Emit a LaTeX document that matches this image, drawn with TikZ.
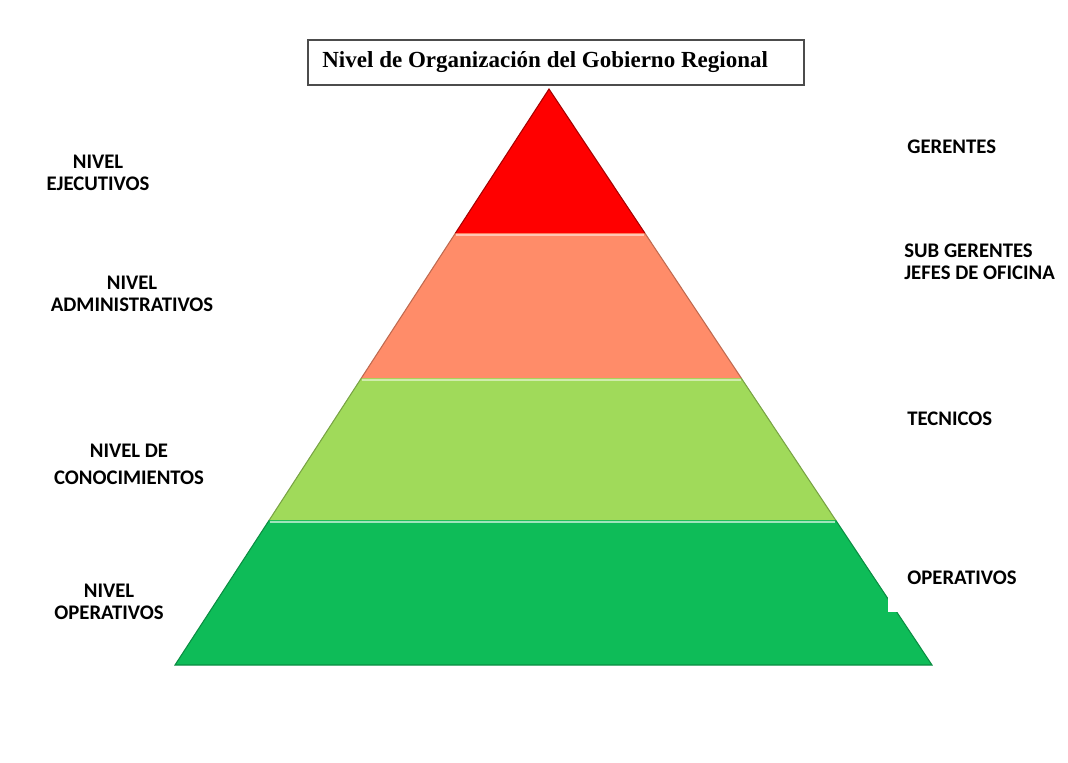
\documentclass[tikz,border=0pt]{standalone}
\usepackage{fontspec}
\setmainfont{Liberation Serif}
\newfontfamily\calibri{Carlito}
\definecolor{topred}{HTML}{FF0000}
\definecolor{salmon}{HTML}{FF8C69}
\definecolor{lightgreen}{HTML}{A0DA5A}
\definecolor{darkgreen}{HTML}{0EBC58}

\begin{document}
\begin{tikzpicture}[x=0.02cm,y=0.02cm]
\tikzstyle{every node}+=[inner sep=0pt]
\tikzstyle{lvl}=[font=\calibri\bfseries\fontsize{11.8}{12.5}\selectfont, align=center]
\tikzstyle{rol}=[font=\calibri\bfseries\fontsize{11.8}{12.5}\selectfont, align=left, anchor=west]
\useasboundingbox (0,0) rectangle (1068,-762);
% title box
\node [draw=black!70, line width=0.8pt, minimum width=9.92cm, minimum height=0.9cm] (titlebox) at (556,-62.5) {};
\node [anchor=west, font=\bfseries\fontsize{13.1}{15}\selectfont] (title) at (322,-62) {Nivel de Organización del Gobierno Regional};
% pyramid bands
\fill [darkgreen] (269.3,-520) -- (835.6,-520) -- (932,-665) -- (175,-665) -- cycle;
\draw [darkgreen!75!black, line width=0.6pt] (269.3,-520) -- (175,-665) -- (932,-665) -- (835.6,-520);
\draw [darkgreen!40!white, line width=1.5pt] (270,-522) -- (835,-522);
\fill [lightgreen] (361.4,-378) -- (741.2,-378) -- (835.6,-520) -- (269.3,-520) -- cycle;
\draw [lightgreen!75!black, line width=0.6pt] (361.4,-378) -- (269.3,-520);
\draw [lightgreen!75!black, line width=0.6pt] (741.2,-378) -- (835.6,-520);
\draw [lightgreen!50!white, line width=1.5pt] (362,-380) -- (740.5,-380);
\fill [salmon] (455.5,-233) -- (644.8,-233) -- (741.2,-378) -- (361.4,-378) -- cycle;
\draw [salmon!75!black, line width=0.6pt] (455.5,-233) -- (361.4,-378);
\draw [salmon!75!black, line width=0.6pt] (644.8,-233) -- (741.2,-378);
\draw [salmon!50!white, line width=1.5pt] (456,-235) -- (644,-235);
\fill [topred] (549,-89) -- (644.8,-233) -- (455.5,-233) -- cycle;
\draw [topred!65!black, line width=0.6pt] (455.5,-233) -- (549,-89) -- (644.8,-233);
\fill [white] (888,-597) rectangle (900,-612);
% level names
\node [lvl] (ejec) at (98,-173) {NIVEL\\EJECUTIVOS};
\node [lvl] (admin) at (132,-294) {NIVEL\\ADMINISTRATIVOS};
\node [lvl, font=\calibri\bfseries\fontsize{11.8}{15.5}\selectfont] (conoc) at (129,-464) {NIVEL DE\\CONOCIMIENTOS};
\node [lvl] (oper) at (109,-602) {NIVEL\\OPERATIVOS};
% roles
\node [rol] (ger) at (907,-147) {GERENTES};
\node [rol] (subger) at (904,-262) {SUB GERENTES\\JEFES DE OFICINA};
\node [rol] (tec) at (907,-419) {TECNICOS};
\node [rol] (operat) at (907,-578) {OPERATIVOS};
\end{tikzpicture}
\end{document}
